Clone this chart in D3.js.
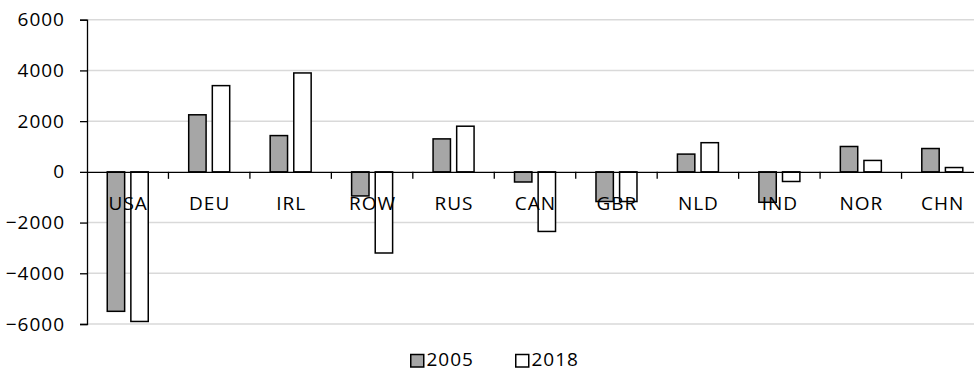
<!DOCTYPE html>
<html>
<head>
<meta charset="utf-8">
<script src="https://cdn.jsdelivr.net/npm/d3@7"></script>
<style>
  html, body { margin: 0; padding: 0; background: #fff; }
  svg { display: block; font-family: "Open Sans", sans-serif; }
  svg text { letter-spacing: 1px; }
</style>
</head>
<body>
<svg id="chart" width="974" height="371"></svg>
<script>
// Net balance by country, 2005 vs 2018
const categories = ["USA", "DEU", "IRL", "ROW", "RUS", "CAN", "GBR", "NLD", "IND", "NOR", "CHN"];
const seriesNames = ["2005", "2018"];
const values2005 = [-5500, 2250, 1430, -950, 1300, -400, -1170, 700, -1200, 1000, 920];
const values2018 = [-5900, 3400, 3900, -3200, 1800, -2350, -1170, 1150, -380, 450, 170];
const yTicks = [-6000, -4000, -2000, 0, 2000, 4000, 6000];
const seriesFill = ["#a6a6a6", "#ffffff"];

const fontSize = 19;
const svg = d3.select("#chart");
const plot = { left: 87, right: 983, top: 19.7, bottom: 324 };

const y = d3.scaleLinear().domain([-6000, 6000]).range([plot.bottom, plot.top]);
const x0 = d3.scaleBand().domain(categories).range([plot.left, plot.right]).padding(0);
const x1 = d3.scaleBand().domain(seriesNames).range([19.5, 62]).paddingInner(0.2);

const seriesValues = [values2005, values2018];

// horizontal gridlines
svg.append("g")
  .selectAll("line")
  .data(yTicks.filter(t => t !== 0))
  .join("line")
  .attr("x1", plot.left).attr("x2", plot.right)
  .attr("y1", d => y(d)).attr("y2", d => y(d))
  .attr("stroke", "#d9d9d9").attr("stroke-width", 1.5);

// bars
const groups = svg.append("g")
  .selectAll("g")
  .data(categories)
  .join("g")
  .attr("transform", d => `translate(${x0(d)},0)`);

groups.selectAll("rect")
  .data((c, i) => seriesNames.map((s, k) => ({ s, k, v: seriesValues[k][i] })))
  .join("rect")
  .attr("x", d => x1(d.s) + 0.75)
  .attr("width", x1.bandwidth() - 1.5)
  .attr("y", d => Math.min(y(d.v), y(0)))
  .attr("height", d => Math.abs(y(d.v) - y(0)))
  .attr("fill", d => seriesFill[d.k])
  .attr("stroke", "#000")
  .attr("stroke-width", 1.5);

// y axis
const yAxis = d3.axisLeft(y).tickValues(yTicks).tickSize(7).tickPadding(15).tickFormat(d3.format("d"));
const gy = svg.append("g").attr("transform", `translate(${plot.left},0)`).call(yAxis);
gy.select(".domain").attr("stroke", "#000").attr("stroke-width", 1.3);
gy.selectAll(".tick line").attr("stroke", "#000").attr("stroke-width", 1.3);
gy.selectAll(".tick text").attr("font-size", fontSize).attr("fill", "#000")
  .attr("font-family", "Open Sans, sans-serif");

// zero axis with category ticks
const xAxis = d3.axisBottom(x0).tickSize(0).tickFormat("");
const gx = svg.append("g").attr("transform", `translate(0,${y(0)})`).call(xAxis);
gx.select(".domain").attr("stroke", "#000").attr("stroke-width", 1.3);
gx.selectAll(".tick").remove();
svg.append("g")
  .selectAll("line")
  .data(categories.slice(1))
  .join("line")
  .attr("x1", d => x0(d)).attr("x2", d => x0(d))
  .attr("y1", y(0)).attr("y2", y(0) + 7)
  .attr("stroke", "#000").attr("stroke-width", 1.3);

// category labels
svg.append("g")
  .selectAll("text")
  .data(categories)
  .join("text")
  .attr("x", d => x0(d) + x0.bandwidth() / 2 + 0.5)
  .attr("y", y(0) + 38)
  .attr("text-anchor", "middle")
  .attr("font-size", fontSize)
  .attr("fill", "#000")
  .text(d => d);

// legend
const legend = svg.append("g");
const legendX = [410, 515];
seriesNames.forEach((s, k) => {
  legend.append("rect")
    .attr("x", legendX[k] + 0.75).attr("y", 354.5)
    .attr("width", 13).attr("height", 12.5)
    .attr("fill", seriesFill[k]).attr("stroke", "#000").attr("stroke-width", 1.5);
  legend.append("text")
    .attr("x", legendX[k] + 16.5).attr("y", 366)
    .attr("font-size", fontSize).attr("fill", "#000")
    .text(s);
});
</script>
</body>
</html>
